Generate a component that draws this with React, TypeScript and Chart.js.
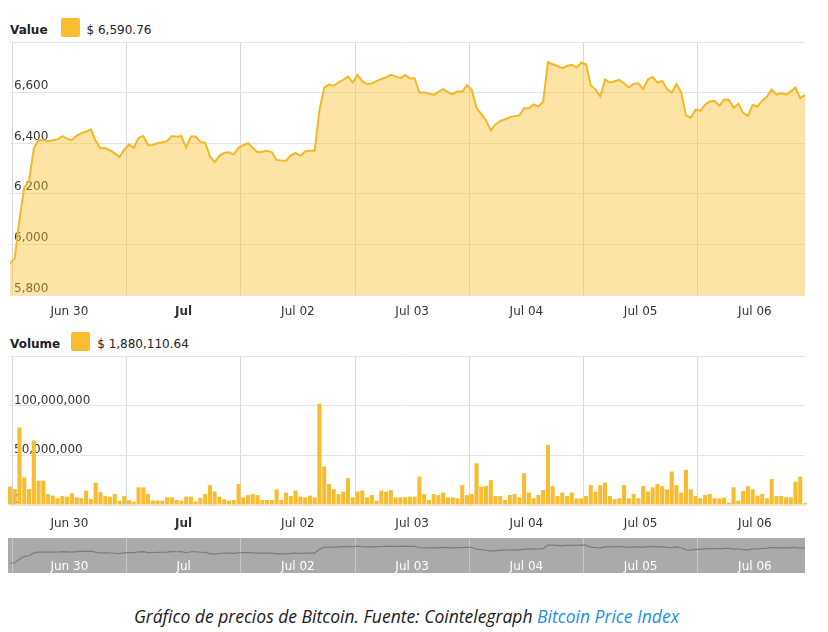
import React, { useEffect, useRef } from 'react';
import { Chart, registerables } from 'chart.js';

Chart.register(...registerables);

// ---- data ----
const DAY_LABELS = ['Jun 30', 'Jul', 'Jul 02', 'Jul 03', 'Jul 04', 'Jul 05', 'Jul 06'];
const START_HOUR = -0.5; // first hourly sample, hours from Jun 30 00:00

const PRICE = [
  5925, 5945, 6100, 6225, 6250, 6380, 6413, 6412, 6408, 6412,
  6415, 6428, 6418, 6412, 6430, 6440, 6446, 6455, 6410, 6380,
  6381, 6372, 6360, 6345, 6375, 6395, 6382, 6420, 6428, 6392,
  6393, 6400, 6404, 6408, 6428, 6426, 6428, 6382, 6426, 6426,
  6405, 6402, 6348, 6325, 6350, 6362, 6364, 6355, 6382, 6392,
  6400, 6382, 6364, 6366, 6370, 6365, 6334, 6332, 6331, 6352,
  6362, 6350, 6368, 6370, 6370, 6530, 6620, 6632, 6627, 6640,
  6650, 6663, 6640, 6670, 6645, 6634, 6636, 6645, 6654, 6660,
  6670, 6664, 6657, 6670, 6656, 6657, 6600, 6600, 6596, 6591,
  6603, 6614, 6602, 6594, 6605, 6603, 6630, 6610, 6540, 6515,
  6490, 6450, 6475, 6488, 6494, 6503, 6507, 6510, 6538, 6538,
  6553, 6545, 6564, 6720, 6712, 6705, 6697, 6705, 6710, 6700,
  6718, 6712, 6628, 6612, 6585, 6652, 6640, 6645, 6650, 6636,
  6620, 6634, 6637, 6614, 6652, 6662, 6640, 6646, 6615, 6600,
  6634, 6600, 6510, 6500, 6533, 6528, 6552, 6565, 6568, 6548,
  6573, 6572, 6540, 6556, 6520, 6508, 6551, 6545, 6568, 6584,
  6612, 6592, 6598, 6592, 6605, 6620, 6578, 6590.76,
];

const VOLUME_MILLIONS = [
  18.5, 16, 78, 27.6, 16, 65, 24.5, 24.5, 11, 9.4,
  6.7, 9, 8.4, 11.8, 7.7, 6.7, 14.5, 6, 22.5, 13,
  9, 8.4, 11, 4.4, 9, 5, 3.4, 17.8, 17.8, 11,
  4.4, 4.4, 4.4, 7.7, 7.7, 5, 4.4, 8.4, 8.4, 3.4,
  7.4, 11, 20, 13.5, 8.4, 5.7, 4.4, 5, 21, 7.7,
  10, 11, 10, 5, 5, 5, 15.8, 5, 12.5, 9,
  14.5, 8.4, 7.7, 9.4, 7.7, 102, 38.7, 21, 15.8, 11,
  13.5, 27, 7.7, 13.5, 14.5, 7.7, 10, 4.4, 14.5, 13.5,
  15, 7.7, 7.7, 7.7, 8.4, 8.4, 28.6, 11, 5, 11,
  10, 12.5, 7.7, 7.7, 6.7, 20, 10, 11, 42, 18.5,
  19, 25, 9, 9, 5, 10, 11, 7.7, 32, 12.5,
  6.7, 10, 15, 60.6, 19, 9, 12.5, 9, 12.5, 6.7,
  6.7, 9, 20, 13.5, 20, 22.5, 9, 5.7, 6.7, 20,
  6.7, 11, 6.7, 19, 13.5, 17.8, 21, 19, 15.8, 33.7,
  20, 12.5, 35.4, 15.8, 9, 6.7, 10, 11, 6.7, 6.7,
  7.4, 2.4, 17.8, 4.4, 14, 19, 15.8, 9.4, 11, 6.7,
  26, 9, 9, 7.7, 7.7, 23.6, 28.6, 1.88,
];

const PRICE_TICKS = [5800, 6000, 6200, 6400, 6600, 6800];
const VOLUME_TICKS = [0, 50000000, 100000000, 150000000];
const LAST_PRICE = '$ 6,590.76';
const LAST_VOLUME = '$ 1,880,110.64';

// ---- styling ----
const FONT = 'DejaVu Sans';
const X_MIN = START_HOUR;
const X_MAX = START_HOUR + PRICE.length - 1;
const LINE_COLOR = '#f5b726';
const FILL_COLOR = 'rgba(250,190,40,0.42)';
const BAR_COLOR = '#f9bc31';
const BOX_COLOR = '#fbbd2e';
const GRID_H = '#e4e4e4';
const GRID_V = '#dadada';
const TEXT = '#333333';

const priceSeries = PRICE.map((v, i) => ({ x: START_HOUR + i, y: v }));
const volumeSeries = VOLUME_MILLIONS.map((v, i) => ({ x: START_HOUR + i, y: v * 1e6 }));

function dayAxis(o: {
  height: number;
  padding: number;
  color: string;
  grid: string;
  boldMonth: boolean;
  mirror?: boolean;
}) {
  return {
    type: 'linear',
    min: X_MIN,
    max: X_MAX,
    offset: false,
    afterBuildTicks: (s: any) => {
      s.ticks = DAY_LABELS.map((_, i) => ({ value: i * 24 }));
    },
    afterFit: (s: any) => {
      s.height = o.height;
      s.paddingLeft = 0;
      s.paddingRight = 0;
      s.paddingTop = 0;
      s.paddingBottom = 0;
    },
    grid: { color: o.grid, drawTicks: false, lineWidth: 1, offset: false },
    border: { display: false },
    ticks: {
      padding: o.padding,
      mirror: !!o.mirror,
      labelOffset: 57,
      maxRotation: 0,
      minRotation: 0,
      autoSkip: false,
      color: o.color,
      font: (ctx: any) => ({
        family: FONT,
        size: 12,
        weight: o.boldMonth && ctx.tick && ctx.tick.label === 'Jul' ? 'bold' : 'normal',
      }),
      callback: (v: any) => DAY_LABELS[Math.round(Number(v) / 24)] ?? '',
    },
  };
}

function valueAxis(ticks: number[], labelOffset: number) {
  const max = ticks[ticks.length - 1];
  return {
    type: 'linear',
    min: ticks[0],
    max,
    afterBuildTicks: (s: any) => {
      s.ticks = ticks.map((v) => ({ value: v }));
    },
    afterFit: (s: any) => {
      s.width = 0;
      s.paddingLeft = 0;
      s.paddingRight = 0;
      s.paddingTop = 0;
      s.paddingBottom = 0;
    },
    grid: { color: GRID_H, drawTicks: false, lineWidth: 1 },
    border: { display: false },
    ticks: {
      mirror: true,
      padding: 4,
      labelOffset,
      color: TEXT,
      font: { family: FONT, size: 12 },
      callback: (v: any) => (Number(v) === max ? '' : Number(v).toLocaleString('en-US')),
    },
  };
}

const commonOpts = {
  responsive: false,
  maintainAspectRatio: false,
  animation: false,
  events: [],
  plugins: { legend: { display: false }, tooltip: { enabled: false } },
};

function priceConfig(): any {
  return {
    type: 'line',
    data: {
      datasets: [
        {
          data: priceSeries,
          borderColor: LINE_COLOR,
          backgroundColor: FILL_COLOR,
          borderWidth: 2,
          pointRadius: 0,
          tension: 0,
          fill: 'start',
        },
      ],
    },
    options: {
      ...commonOpts,
      layout: { autoPadding: false, padding: { top: 12, left: 10, right: 23, bottom: 5 } },
      scales: {
        x: dayAxis({ height: 30, padding: 10, color: TEXT, grid: GRID_V, boldMonth: true }),
        y: valueAxis(PRICE_TICKS, -6.5),
      },
    },
  };
}

function volumeConfig(): any {
  return {
    type: 'line',
    data: {
      datasets: [
        {
          type: 'bar',
          data: volumeSeries,
          backgroundColor: BAR_COLOR,
          borderWidth: 0,
          barPercentage: 0.86,
          categoryPercentage: 1,
          clip: false,
        },
      ],
    },
    options: {
      ...commonOpts,
      layout: { autoPadding: false, padding: { top: 6, left: 10, right: 23, bottom: 5 } },
      scales: {
        x: dayAxis({ height: 30, padding: 12, color: TEXT, grid: GRID_V, boldMonth: true }),
        y: valueAxis(VOLUME_TICKS, -5),
      },
    },
  };
}

function navigatorConfig(): any {
  return {
    type: 'line',
    data: {
      datasets: [
        {
          data: priceSeries,
          borderColor: '#7b7b7b',
          borderWidth: 1.2,
          pointRadius: 0,
          tension: 0,
          fill: false,
          clip: false,
        },
      ],
    },
    options: {
      ...commonOpts,
      layout: { autoPadding: false, padding: { top: 0, left: 10, right: 23, bottom: 0 } },
      scales: {
        x: dayAxis({
          height: 0,
          padding: -1,
          color: '#ffffff',
          grid: 'rgba(255,255,255,0.35)',
          boldMonth: false,
          mirror: true,
        }),
        y: { type: 'linear', min: 5500, max: 7025, display: false },
      },
    },
  };
}

function ChartCanvas({ top, height, build }: { top: number; height: number; build: () => any }) {
  const ref = useRef<HTMLCanvasElement | null>(null);
  useEffect(() => {
    if (!ref.current) return;
    const chart = new Chart(ref.current, build());
    return () => chart.destroy();
  }, []);
  return (
    <canvas
      ref={ref}
      width={828}
      height={height}
      style={{ position: 'absolute', left: 0, top, width: 828, height, display: 'block' }}
    />
  );
}

function LegendRow({ top, label, value, gap }: { top: number; label: string; value: string; gap: number }) {
  return (
    <div
      style={{
        position: 'absolute',
        left: 10,
        top,
        height: 19,
        display: 'flex',
        alignItems: 'center',
        fontFamily: FONT,
        fontSize: 12,
        color: '#222',
      }}
    >
      <span style={{ fontWeight: 'bold', position: 'relative', top: 2 }}>{label}</span>
      <span
        style={{
          display: 'inline-block',
          width: 19,
          height: 19,
          background: BOX_COLOR,
          borderRadius: 2,
          marginLeft: gap,
          marginRight: 7,
        }}
      />
      <span style={{ position: 'relative', top: 2 }}>{value}</span>
    </div>
  );
}

export default function App() {
  return (
    <div
      style={{
        position: 'absolute',
        left: 0,
        top: 0,
        width: 828,
        height: 632,
        background: '#ffffff',
        overflow: 'hidden',
      }}
    >
      <LegendRow top={18} label="Value" value={LAST_PRICE} gap={13} />
      <ChartCanvas top={30} height={300} build={priceConfig} />
      <LegendRow top={332} label="Volume" value={LAST_VOLUME} gap={11} />
      <ChartCanvas top={350} height={190} build={volumeConfig} />
      <div style={{ position: 'absolute', left: 8, top: 538, width: 797, height: 35, background: '#aaaaaa' }} />
      <ChartCanvas top={538} height={35} build={navigatorConfig} />
      <div
        style={{
          position: 'absolute',
          left: 0,
          top: 603,
          width: 813,
          textAlign: 'center',
          fontFamily: '"Open Sans", sans-serif',
          fontStyle: 'italic',
          fontSize: 17.5,
          lineHeight: '26px',
          color: '#1a1a1a',
        }}
      >
        Gráfico de precios de Bitcoin. Fuente: Cointelegraph{' '}
        <span style={{ color: '#1f8fe5' }}>Bitcoin Price Index</span>
      </div>
    </div>
  );
}
